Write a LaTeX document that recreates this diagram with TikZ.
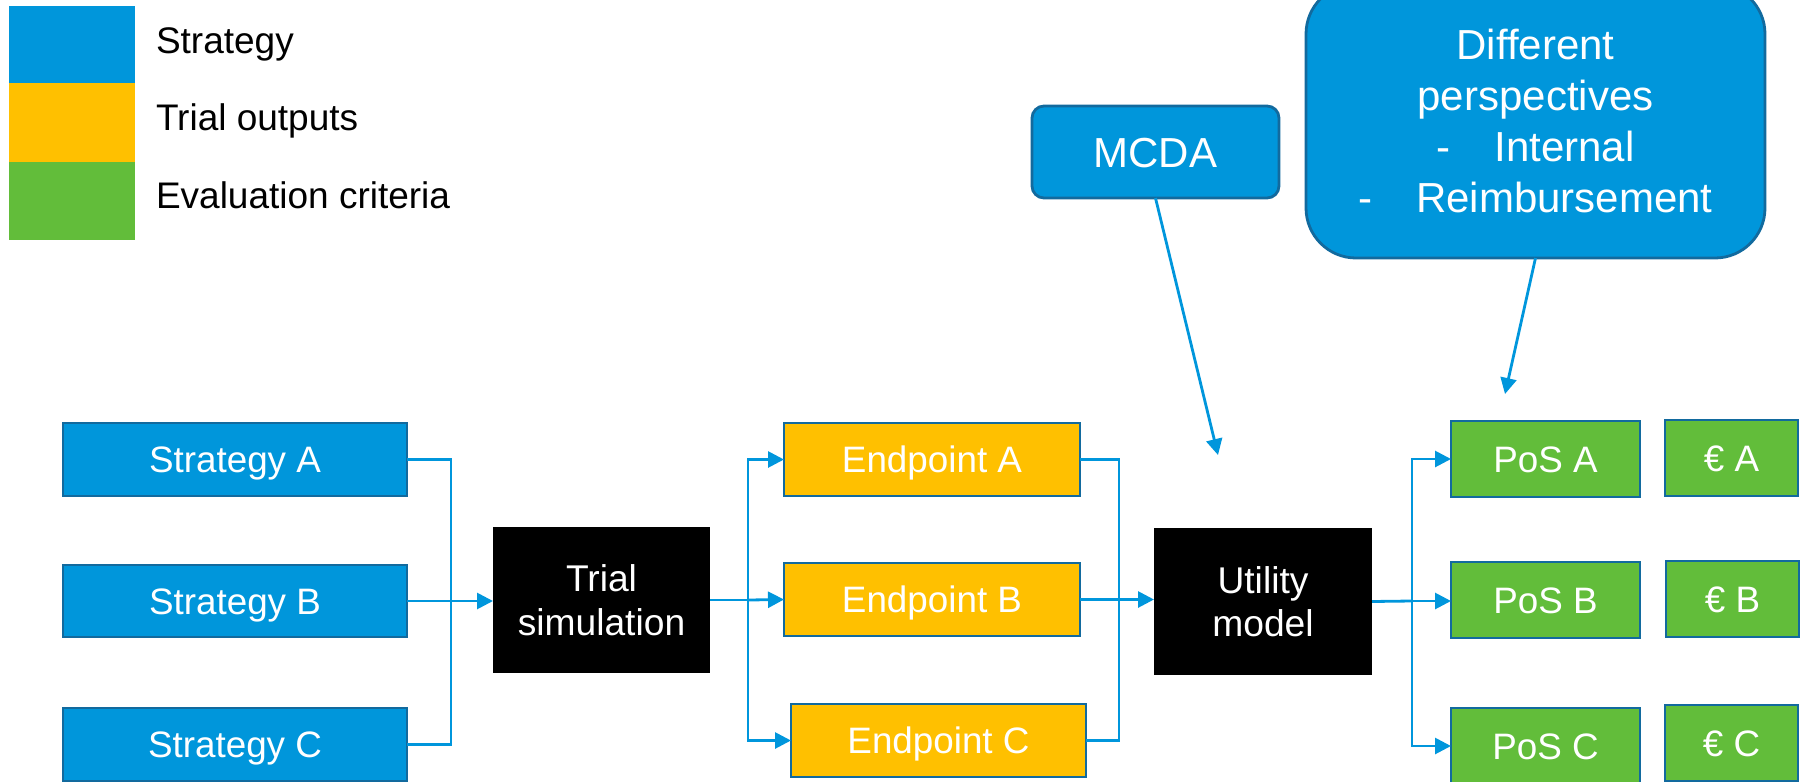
\documentclass[tikz,border=0pt]{standalone}
\usepackage{fontspec}
\setmainfont{Liberation Sans}
\usetikzlibrary{arrows.meta}

\definecolor{stratblue}{RGB}{0,150,219}
\definecolor{edgeblue}{RGB}{18,106,158}
\definecolor{lineblue}{RGB}{0,150,220}
\definecolor{outyellow}{RGB}{255,192,0}
\definecolor{critgreen}{RGB}{98,189,58}

% sizes are given in pixels of a 1800 x 782 canvas (1 px = 0.5 pt)
\newcommand\pxl[1]{#1*0.5pt}

\begin{document}
\begin{tikzpicture}[x=0.5pt,y=-0.5pt,
  every node/.style={inner sep=0pt, outer sep=0pt},
  cell/.style n args={2}{minimum width=\pxl{#1}, minimum height=\pxl{#2}},
  oneline/.style={text=white, font=\fontsize{18.4}{22}\selectfont,
                  text height=13.2pt, text depth=0pt},
  twoline/.style={text=white, align=center, font=\fontsize{18.6}{21.8}\selectfont},
  stratbox/.style={oneline, fill=stratblue, draw=edgeblue, line width=1.4pt},
  outbox/.style={oneline, fill=outyellow, draw=edgeblue, line width=1.4pt},
  critbox/.style={oneline, fill=critgreen, draw=edgeblue, line width=1.4pt},
  modelbox/.style={twoline, fill=black},
  notebox/.style={fill=stratblue, draw=edgeblue, line width=1.4pt, text=white},
  legtext/.style={anchor=base west, font=\fontsize{18.5}{22}\selectfont},
  conn/.style={draw=lineblue, line width=1.4pt},
  arr/.style={conn, -{Triangle[length=8pt,width=8pt]}}
]
\useasboundingbox (0,0) rectangle (1800,782);

% legend
\fill[stratblue] (9,6) rectangle (135,83);
\fill[outyellow] (9,83) rectangle (135,162);
\fill[critgreen] (9,162) rectangle (135,240);
\node[legtext] (lgstrat) at (156,53) {Strategy};
\node[legtext] (lgout) at (156,130) {Trial outputs};
\node[legtext] (lgcrit) at (156,208) {Evaluation criteria};

% strategies
\node[stratbox, cell={344}{73}] (sa) at (235,459.5) {Strategy A};
\node[stratbox, cell={344}{72}] (sb) at (235,601) {Strategy B};
\node[stratbox, cell={344}{73}] (sc) at (235,744.5) {Strategy C};

% trial simulation
\node[modelbox, cell={217}{146}] (ts) at (601.5,600) {Trial\\simulation};

% endpoints
\node[outbox, cell={296}{73}] (ea) at (932,459.5) {Endpoint A};
\node[outbox, cell={296}{73}] (eb) at (932,599.5) {Endpoint B};
\node[outbox, cell={295}{73}] (ec) at (938.5,740.5) {Endpoint C};

% utility model
\node[modelbox, cell={218}{147}] (um) at (1263,601.5) {Utility\\model};

% evaluation criteria
\node[critbox, cell={189}{76}] (pa) at (1545.5,459) {PoS A};
\node[critbox, cell={189}{76}] (pb) at (1545.5,600) {PoS B};
\node[critbox, cell={189}{76}] (pc) at (1545.5,746) {PoS C};
\node[critbox, cell={133}{76}] (ca) at (1731.5,458) {€ A};
\node[critbox, cell={133}{76}] (cb) at (1732.5,599) {€ B};
\node[critbox, cell={133}{76}] (cc) at (1731.5,743) {€ C};

% inputs to the utility model
\node[notebox, cell={247}{92}, rounded corners=6pt,
      font=\fontsize{21}{25}\selectfont, text height=15pt, text depth=0pt]
      (mcda) at (1155.5,152) {MCDA};
\node[notebox, cell={459}{274}, rounded corners=25pt, align=center,
      font=\fontsize{21}{25.65}\selectfont]
      (dp) at (1535.5,121)
      {Different\\perspectives\\-\hspace{22pt}Internal\\-\hspace{22pt}Reimbursement};

% strategies -> trial simulation
\coordinate (jin) at (451,601);
\draw[conn] (sa.east) -| (jin);
\draw[conn] (sc.east) -| (jin);
\draw[arr] (sb.east) -- (sb.east -| ts.west);

% trial simulation -> endpoints
\coordinate (jout) at (748,600);
\draw[conn] (ts.east) -- (jout);
\draw[arr] (jout) |- (ea.west);
\draw[arr] (jout) -- (eb.west);
\draw[arr] (jout) |- (ec.west);

% endpoints -> utility model
\coordinate (jum) at (1119,601);
\draw[conn] (ea.east) -| (jum);
\draw[conn] (ec.east) -| (jum);
\draw[arr] (eb.east) -- (eb.east -| um.west);

% utility model -> PoS
\coordinate (jpos) at (1412,601);
\draw[conn] (um.east) -- (jpos);
\draw[arr] (jpos) |- (pa.west);
\draw[arr] (jpos) -- (jpos -| pb.west);
\draw[arr] (jpos) |- (pc.west);

% annotations
\coordinate (mcdatip) at (1218,455);
\coordinate (dptip) at (1505,394);
\draw[arr] (mcda.south) -- (mcdatip);
\draw[arr] (dp.south) -- (dptip);
\end{tikzpicture}
\end{document}
